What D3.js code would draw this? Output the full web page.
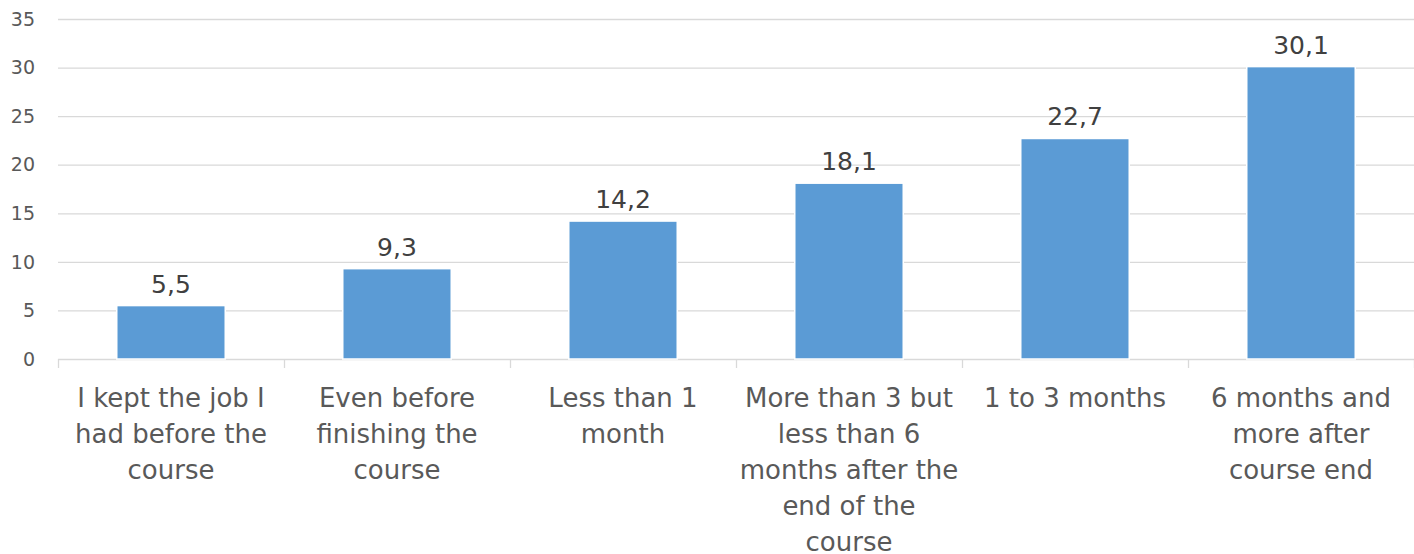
<!DOCTYPE html>
<html lang="en">
<head>
<meta charset="utf-8">
<title>Time to find a job</title>
<script src="https://d3js.org/d3.v7.min.js"></script>
<style>
  body { margin: 0; background: #fff; }
  svg text { font-family: "DejaVu Sans", Verdana, sans-serif; }
</style>
</head>
<body>
<script>
// categories, one entry per bar, each split into its label lines
var categories = [
  ["I kept the job I", "had before the", "course"],
  ["Even before", "finishing the", "course"],
  ["Less than 1", "month"],
  ["More than 3 but", "less than 6", "months after the", "end of the", "course"],
  ["1 to 3 months"],
  ["6 months and", "more after", "course end"]
];
var values = [5.5, 9.3, 14.2, 18.1, 22.7, 30.1];
var yTicks = [0, 5, 10, 15, 20, 25, 30, 35];

var width = 1414, height = 554,
    plot = {left: 58, right: 1414, top: 19, bottom: 359};

var svg = d3.select("body").append("svg")
  .attr("width", width)
  .attr("height", height);

var x = d3.scaleBand()
  .domain(d3.range(categories.length))
  .range([plot.left, plot.right])
  .paddingInner(0.52)
  .paddingOuter(0.26);

var y = d3.scaleLinear()
  .domain([0, 35])
  .range([plot.bottom, plot.top]);

// gridlines
svg.append("g")
  .selectAll("line")
  .data(yTicks)
  .enter().append("line")
  .attr("x1", plot.left).attr("x2", plot.right)
  .attr("y1", function(d) { return y(d) + 0.5; })
  .attr("y2", function(d) { return y(d) + 0.5; })
  .attr("stroke", "#d9d9d9")
  .attr("stroke-width", 1.3);

// y tick labels
svg.append("g")
  .selectAll("text")
  .data(yTicks)
  .enter().append("text")
  .attr("x", 35)
  .attr("y", function(d) { return y(d); })
  .attr("dy", "0.35em")
  .attr("text-anchor", "end")
  .attr("fill", "#595959")
  .style("font-size", "19px")
  .text(function(d) { return d; });

// x axis ticks at band boundaries
var bandW = (plot.right - plot.left) / categories.length;
svg.append("g")
  .selectAll("line")
  .data(d3.range(categories.length + 1))
  .enter().append("line")
  .attr("x1", function(i) { return plot.left + i * bandW + 0.5; })
  .attr("x2", function(i) { return plot.left + i * bandW + 0.5; })
  .attr("y1", plot.bottom)
  .attr("y2", plot.bottom + 9)
  .attr("stroke", "#d9d9d9")
  .attr("stroke-width", 1.3);

// bars
svg.append("g")
  .selectAll("rect")
  .data(values)
  .enter().append("rect")
  .attr("x", function(d, i) { return x(i); })
  .attr("y", function(d) { return y(d); })
  .attr("width", x.bandwidth())
  .attr("height", function(d) { return y(0) - y(d); })
  .attr("fill", "#5b9bd5")
  .attr("stroke", "#fff")
  .attr("stroke-width", 1.5);

// data labels
svg.append("g")
  .selectAll("text")
  .data(values)
  .enter().append("text")
  .attr("x", function(d, i) { return x(i) + x.bandwidth() / 2; })
  .attr("y", function(d) { return y(d) - 13; })
  .attr("text-anchor", "middle")
  .attr("fill", "#404040")
  .style("font-size", "25px")
  .text(function(d) { return d.toFixed(1).replace(".", ","); });

// category labels
var labels = svg.append("g")
  .selectAll("text")
  .data(categories)
  .enter().append("text")
  .attr("text-anchor", "middle")
  .attr("fill", "#595959")
  .style("font-size", "26px");

labels.selectAll("tspan")
  .data(function(d, i) { return d.map(function(s) { return {s: s, i: i}; }); })
  .enter().append("tspan")
  .attr("x", function(d) { return x(d.i) + x.bandwidth() / 2; })
  .attr("y", function(d, j) { return 407 + j * 36; })
  .text(function(d) { return d.s; });
</script>
</body>
</html>
